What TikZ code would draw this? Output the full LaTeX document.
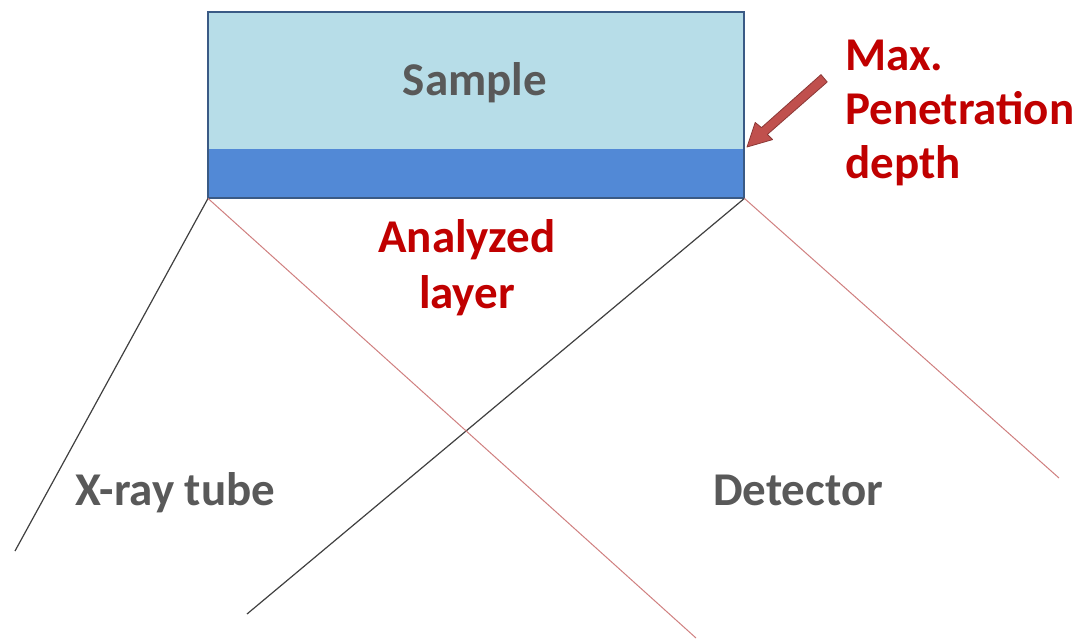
\documentclass[tikz,border=0pt]{standalone}
\usepackage{fontspec}
\setmainfont{Carlito}
\definecolor{samplefill}{HTML}{B7DDE8}
\definecolor{layerfill}{HTML}{5289D6}
\definecolor{boxedge}{HTML}{3A5A85}
\definecolor{labelgray}{HTML}{595959}
\definecolor{labelred}{HTML}{C00000}
\definecolor{arrowfill}{HTML}{C0504D}
\definecolor{arrowedge}{HTML}{8C3836}
\definecolor{beamdark}{HTML}{404040}
\definecolor{beamred}{HTML}{D08080}
\begin{document}
\begin{tikzpicture}[x=1pt,y=-1pt,
  lbl/.style={font=\bfseries\fontsize{47}{56}\selectfont, inner sep=0},
  graylbl/.style={lbl, text=labelgray},
  redlbl/.style={lbl, text=labelred},
  incident/.style={draw=beamdark, line width=1.2pt},
  emitted/.style={draw=beamred, line width=1pt}]
\useasboundingbox (0,0) rectangle (1084,638);
\fill[white] (0,0) rectangle (1084,638);

% sample block with the analyzed layer at its base
\node[fill=samplefill, minimum width=536pt, minimum height=186pt,
      anchor=north west, inner sep=0] (sample) at (208,12) {};
\fill[layerfill] (208,149) rectangle (744,198);
\draw[boxedge, line width=2pt] (sample.north west) rectangle (sample.south east);
\coordinate (bl) at (sample.south west);
\coordinate (br) at (sample.south east);

% beam ends
\coordinate (tubeA) at (15,551);
\coordinate (tubeB) at (247,614);
\coordinate (detA) at (696,638);
\coordinate (detB) at (1059,478);

\draw[incident] (bl) -- (tubeA);
\draw[incident] (br) -- (tubeB);
\draw[emitted] (bl) -- (detA);
\draw[emitted] (br) -- (detB);

% labels
\node[graylbl, anchor=base] (samplelbl) at (475,95) {Sample};
\node[redlbl, anchor=base] (analyzed) at (467,252) {Analyzed};
\node[redlbl, anchor=base] (layer) at (467,308) {layer};
\node[redlbl, anchor=base west] (maxl) at (845,70) {Max.};
\node[redlbl, anchor=base west] (penl) at (845,124) {Penetration};
\node[redlbl, anchor=base west] (depl) at (845,178) {depth};
\node[graylbl, anchor=base west] (tube) at (75,505) {X-ray tube};
\node[graylbl, anchor=base west] (det) at (713,505) {Detector};

% pointer to the maximum penetration depth
\coordinate (ptail) at (824,78);
\coordinate (ptip) at (747,147);
\fill[arrowfill, draw=arrowedge, line width=0.8pt, line join=round]
  (827.2,82.0) -- (821.0,74.6) -- (761.5,127.6) -- (755.2,122.5)
  -- (ptip) -- (772.6,139.6) -- (767.4,134.4) -- cycle;
\end{tikzpicture}
\end{document}
